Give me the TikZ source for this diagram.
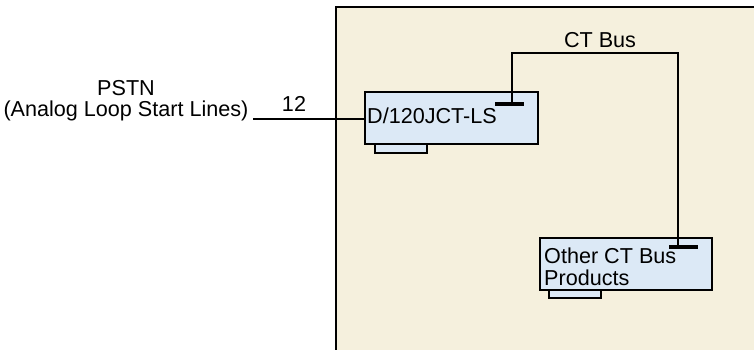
\documentclass[tikz,border=0pt]{standalone}
\usepackage{fontspec}
\setmainfont{Liberation Sans}
\begin{document}
\begin{tikzpicture}[x=1pt,y=-1pt,
  lbl/.style={font=\fontsize{21.6}{21.5}\selectfont, inner sep=0pt},
  card/.style={draw=black, line width=1.8pt, fill=cardblue},
  bar/.style={fill=black, draw=none},
  wire/.style={draw=black, line width=1.5pt}]
\definecolor{beige}{RGB}{245,240,221}
\definecolor{cardblue}{RGB}{220,233,246}
\useasboundingbox (0,0) rectangle (754,350);
% enclosure
\fill[beige] (336,7) rectangle (754,350);
\draw[line width=1.9pt] (336,351) -- (336,7) -- (755,7);
% D/120 card
\path[card] (375,140) rectangle (427,153);
\node[card, minimum width=173pt, minimum height=52pt, inner sep=0pt, anchor=north west] (d120) at (364,91) {};
\node[lbl, anchor=base west] (d120t) at (367,124) {D/120JCT-LS};
\node[bar, minimum width=29pt, minimum height=4.5pt, inner sep=0pt] (bar1) at (509.5,104) {};
% other card
\path[card] (549,284) rectangle (601,298);
\node[card, minimum width=172pt, minimum height=52pt, inner sep=0pt, anchor=north west] (other) at (539,237) {};
\node[lbl, anchor=base west] (othert) at (544,263) {Other CT Bus};
\node[lbl, anchor=base west] (othert2) at (544,285) {Products};
\node[bar, minimum width=29pt, minimum height=4.5pt, inner sep=0pt] (bar2) at (683.5,247) {};
% CT bus
\coordinate (b1) at (512,104);
\coordinate (b2) at (678,247);
\draw[wire] (b1) -- (512,53) -- (678,53) -- (b2);
\node[lbl, anchor=base] (ctbus) at (600,48) {CT Bus};
% PSTN
\node[lbl, align=center, anchor=base] (pstn) at (126,117) {PSTN\\(Analog Loop Start Lines)};
\coordinate (pl) at (253,119);
\draw[wire] (pl) -- (d120.west |- pl);
\node[lbl, anchor=base] (twelve) at (294,111) {12};
\end{tikzpicture}
\end{document}
